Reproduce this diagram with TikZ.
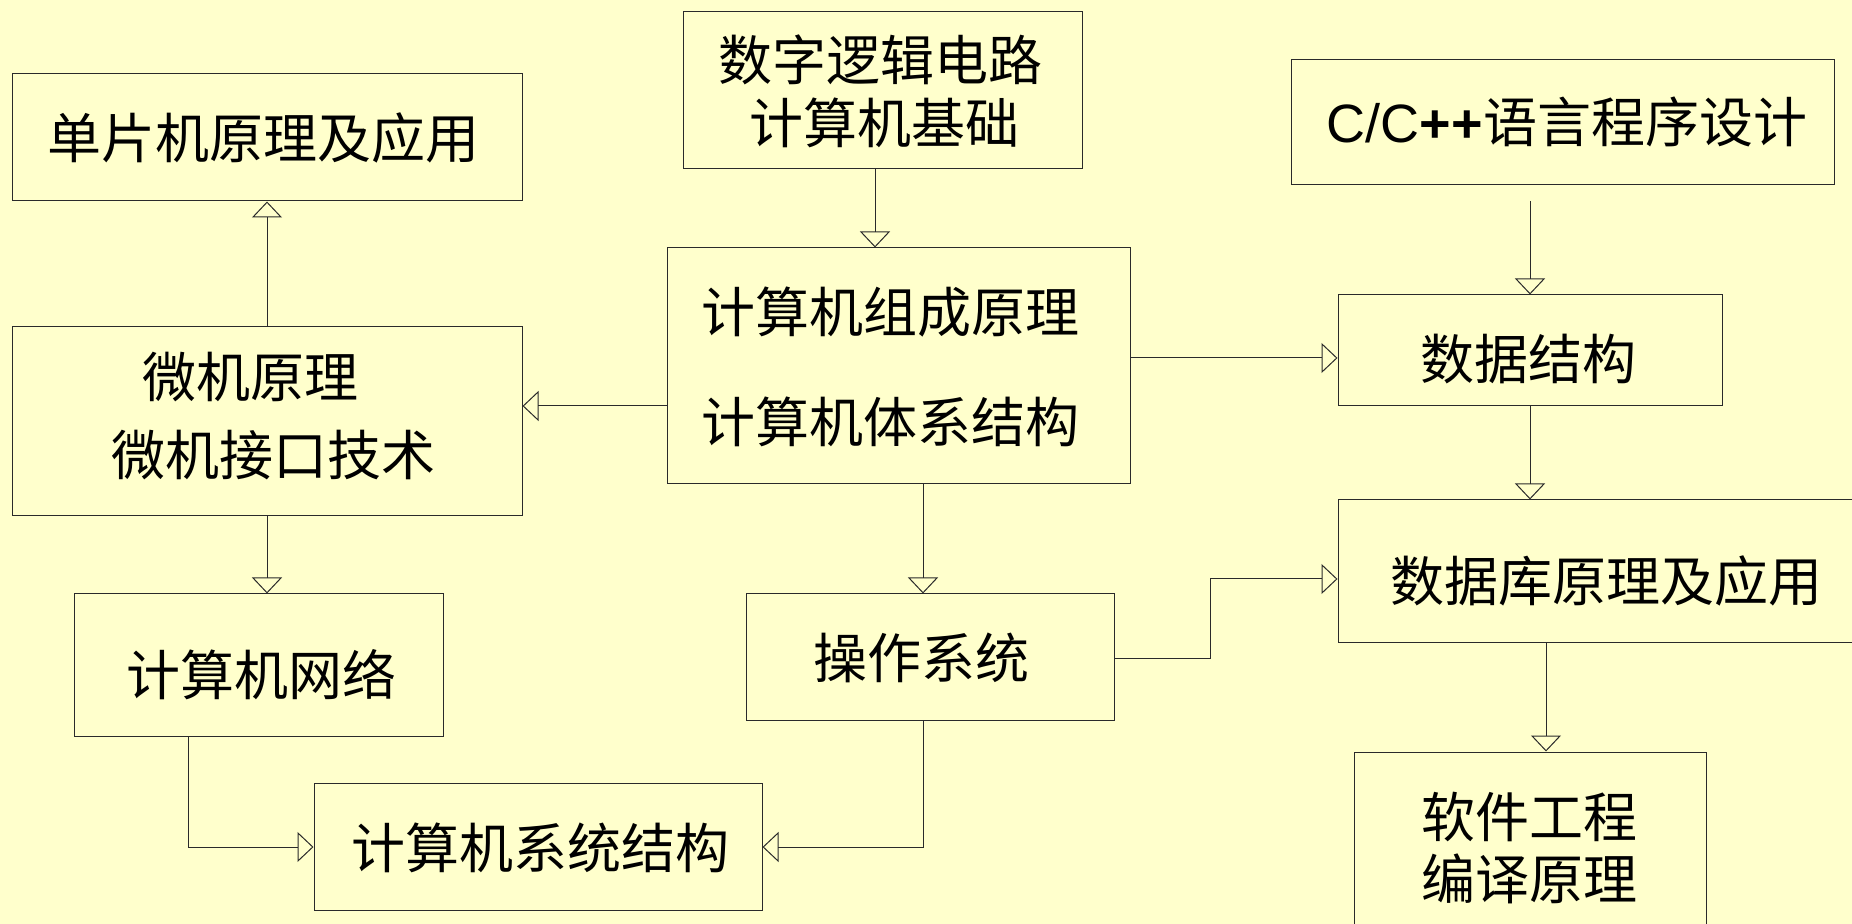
\documentclass[tikz,border=0pt]{standalone}
\usepackage{fontspec}
\setmainfont{Noto Sans CJK SC}
\newfontfamily\latinfont{Liberation Sans}
\usetikzlibrary{arrows.meta,fit}
\definecolor{bg}{HTML}{FFFFCC}
\definecolor{ln}{HTML}{2A2A2A}
\begin{document}
\begin{tikzpicture}[x=0.5pt,y=-0.5pt,
  box/.style={draw=ln, line width=0.5pt, inner sep=0pt, fill=bg},
  txt/.style={inner sep=0pt, text=black, font=\fontsize{27pt}{32pt}\selectfont},
  arr/.style={draw=ln, line width=0.5pt, -{Triangle[open,length=8pt,width=15pt]}}]
\useasboundingbox[fill=bg] (0,0) rectangle (1852,924);
\clip (0,0) rectangle (1852,924);
% boxes
\node[box, fit={(12,74) (522,201)}] (mcu) {};
\node[box, fit={(683,12) (1082,169)}] (dig) {};
\node[box, fit={(1291,60) (1834,185)}] (cpp) {};
\node[box, fit={(12,327) (522,516)}] (micro) {};
\node[box, fit={(667,248) (1130,484)}] (org) {};
\node[box, fit={(1338,295) (1722,406)}] (ds) {};
\node[box, fit={(1338,500) (1880,642)}] (db) {};
\node[box, fit={(74,594) (443,736)}] (net) {};
\node[box, fit={(746,594) (1114,720)}] (os) {};
\node[box, fit={(314,783) (762,910)}] (sys) {};
\node[box, fit={(1354,752) (1706,960)}] (sw) {};
% texts
\node[txt] (tmcu) at (263,138) {单片机原理及应用};
\node[txt] (tdig1) at (880,60) {数字逻辑电路};
\node[txt] (tdig2) at (884,123) {计算机基础};
\node[txt] (tcpp) at (1567,122) {{\latinfont C/C\textbf{++}}语言程序设计};
\node[txt] (tmic1) at (250,377) {微机原理};
\node[txt] (tmic2) at (273,455) {微机接口技术};
\node[txt] (torg1) at (890,312) {计算机组成原理};
\node[txt] (torg2) at (890,422) {计算机体系结构};
\node[txt] (tds) at (1528,359) {数据结构};
\node[txt] (tdb) at (1606,581) {数据库原理及应用};
\node[txt] (tnet) at (261,675) {计算机网络};
\node[txt] (tos) at (921,658) {操作系统};
\node[txt] (tsys) at (540,848) {计算机系统结构};
\node[txt] (tsw1) at (1529,817) {软件工程};
\node[txt] (tsw2) at (1529,879) {编译原理};
% helper coordinates
\coordinate (xa) at (875,0);
\coordinate (cppout) at (1530,201);
\coordinate (ya) at (0,358);
\coordinate (yb) at (0,406);
\coordinate (xb) at (267,0);
\coordinate (xc) at (923,0);
\coordinate (osout) at (0,658);
\coordinate (dbin) at (1210,579);
\coordinate (xd) at (1530,0);
\coordinate (xe) at (1546,0);
\coordinate (yf) at (188,847);
% connectors
\draw[arr] (dig.south -| xa) -- (org.north -| xa);
\draw[arr] (cppout) -- (ds.north -| cppout);
\draw[arr] (org.east |- ya) -- (ds.west |- ya);
\draw[arr] (org.west |- yb) -- (micro.east |- yb);
\draw[arr] (micro.north -| xb) -- (mcu.south -| xb);
\draw[arr] (micro.south -| xb) -- (net.north -| xb);
\draw[arr] (org.south -| xc) -- (os.north -| xc);
\draw[arr] (os.east |- osout) -| (dbin) -- (db.west |- dbin);
\draw[arr] (ds.south -| xd) -- (db.north -| xd);
\draw[arr] (db.south -| xe) -- (sw.north -| xe);
\draw[arr] (net.south -| yf) |- (sys.west |- yf);
\draw[arr] (os.south -| xc) |- (sys.east |- yf);
\end{tikzpicture}
\end{document}
